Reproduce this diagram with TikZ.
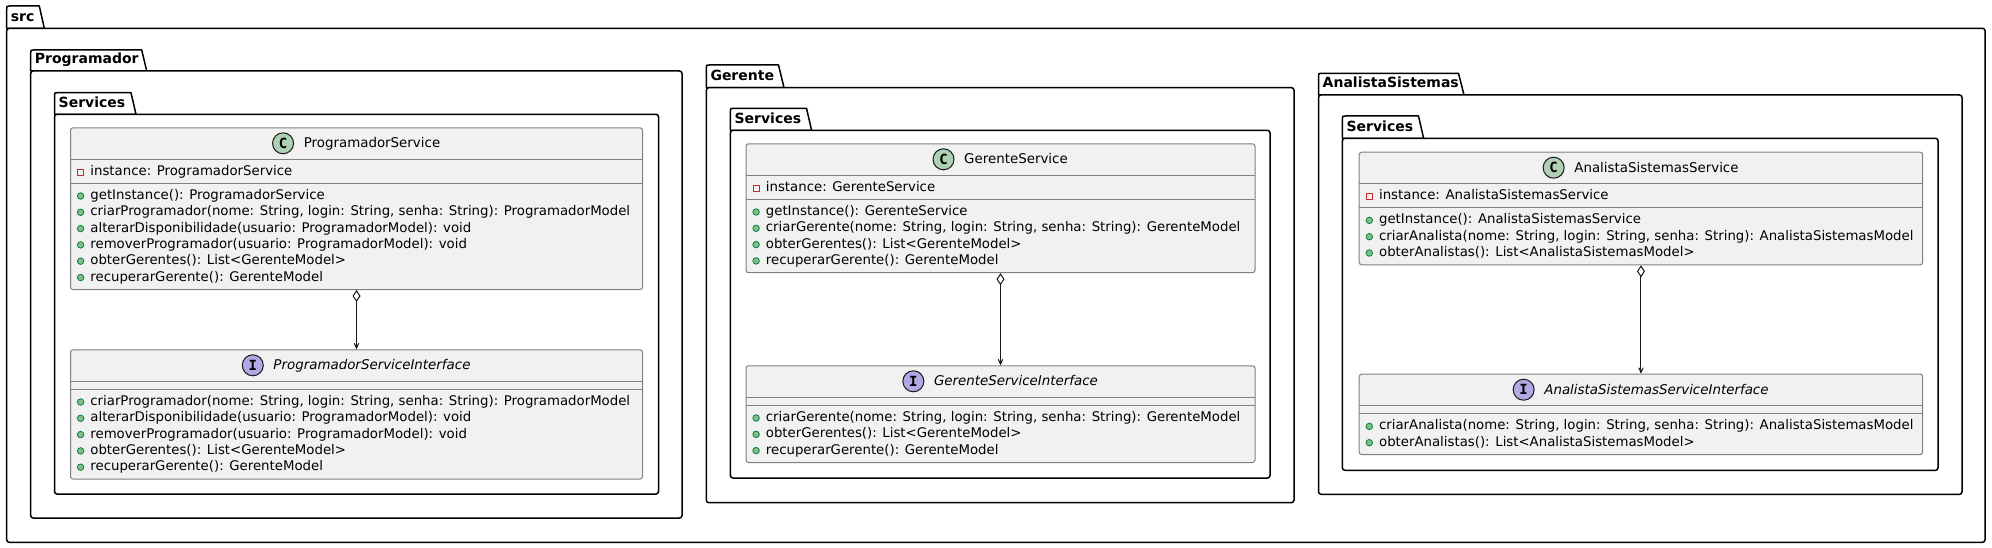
\documentclass[tikz,border=0pt]{standalone}
\usepackage{fontspec}
\setmainfont{DejaVu Sans}
\newfontfamily\spotfont{DejaVu Sans Mono}
\usetikzlibrary{arrows.meta}
\definecolor{classbg}{HTML}{F1F1F1}
\definecolor{classline}{HTML}{181818}
\definecolor{spotC}{HTML}{ADD1B2}
\definecolor{spotI}{HTML}{B4A7E5}
\definecolor{privred}{HTML}{C82930}
\definecolor{pubfill}{HTML}{84BE84}
\definecolor{publine}{HTML}{038048}
\tikzset{
  pkgline/.style={draw=black, line width=1.5pt, fill=white, line join=round},
  pkglabel/.style={anchor=base west, inner sep=0pt, font=\bfseries\fontsize{14}{16}\selectfont},
  classbox/.style={anchor=north west, draw=black!50, line width=1pt, fill=classbg, rounded corners=2.5pt, inner sep=0pt},
  sepline/.style={draw=black!50, line width=1pt},
  cname/.style={anchor=center, inner sep=0pt, text height=11pt, text depth=2pt, font=\fontsize{13.4}{16}\selectfont},
  iname/.style={cname, font=\itshape\fontsize{13.4}{16}\selectfont},
  member/.style={anchor=west, inner sep=0pt, text height=11pt, text depth=2pt, font=\fontsize{13.3}{16}\selectfont},
  spotc/.style={circle, draw=classline, line width=1pt, fill=spotC, minimum size=21pt, inner sep=0pt, font=\spotfont\bfseries\fontsize{14}{14}\selectfont},
  spoti/.style={spotc, fill=spotI},
  privicon/.style={rectangle, draw=privred, line width=0.9pt, minimum size=6pt, inner sep=0pt},
  pubicon/.style={circle, draw=publine, fill=pubfill, line width=0.8pt, minimum size=6.5pt, inner sep=0pt},
  aggr/.style={draw=classline, line width=1pt, arrows={Diamond[fill=white,length=12pt,width=8pt]-Stealth[length=11pt,width=10pt,inset=8pt]}}
}
% package: #1 name, #2 label, #3 left, #4 tab top, #5 body top, #6 tab right top, #7 tab right bottom, #8 right, #9 bottom
\newcommand\pkgdraw[9]{%
  \draw[pkgline] (#3,#5) -- (#3,#4+3) .. controls (#3,#4) .. (#3+3,#4) -- (#6,#4) -- (#7,#5) -- cycle;
  \draw[pkgline, rounded corners=2.5pt] (#3,#5) rectangle (#8,#9);
  \node[pkglabel] (#1) at (#3+4,#5-7) {#2};}
% class: #1 name, #2 left, #3 top, #4 width, #5 height, #6 spot style, #7 letter, #8 name style, #9 title
\newcommand\umlclass[9]{%
  \node[classbox, minimum width=#4pt, minimum height=#5pt] (#1) at (#2,#3) {};
  \node[#8] (#1n) at (#2+#4/2+16,#3+16) {#9};
  \node[#6] (#1s) at ([xshift=-20.5pt]#1n.west) {#7};}
% member: #1 name, #2 class left, #3 centre y, #4 icon style, #5 text
\newcommand\mline[5]{%
  \node[#4] (#1i) at (#2+10.6,#3+1) {};
  \node[member] (#1) at (#2+20.2,#3) {#5};}
\newcommand\sepat[3]{\draw[sepline] (#1,#3) -- ++(#2,0);}
\begin{document}
\begin{tikzpicture}[x=1pt,y=-1pt]
\useasboundingbox (0,0) rectangle (1992,548);
% packages
\pkgdraw{src}{src}{6.7}{6}{28.3}{39.3}{44.3}{1985}{542.3}
\pkgdraw{progpkg}{Programador}{30.7}{50}{71}{141.7}{146.7}{682}{518}
\pkgdraw{progsrv}{Services}{54.5}{92.7}{114.3}{131}{136}{658.5}{494}
\pkgdraw{gerpkg}{Gerente}{706.3}{65}{87.7}{778.5}{784}{1294}{502.7}
\pkgdraw{gersrv}{Services}{730.4}{108.3}{130.3}{806.5}{811.6}{1270}{478}
\pkgdraw{anapkg}{AnalistaSistemas}{1318.5}{73.3}{95}{1458.5}{1464}{1962}{494.3}
\pkgdraw{anasrv}{Services}{1342.4}{116}{138.3}{1418.5}{1423.6}{1938}{470.3}
% ProgramadorService
\umlclass{ps}{70}{127.3}{572}{161.7}{spotc}{C}{cname}{ProgramadorService}
\sepat{70}{572}{159.3}\sepat{70}{572}{183.3}
\mline{psa1}{70}{171}{privicon}{instance: ProgramadorService}
\mline{psm1}{70}{195}{pubicon}{getInstance(): ProgramadorService}
\mline{psm2}{70}{211.3}{pubicon}{criarProgramador(nome: String, login: String, senha: String): ProgramadorModel}
\mline{psm3}{70}{227.6}{pubicon}{alterarDisponibilidade(usuario: ProgramadorModel): void}
\mline{psm4}{70}{243.9}{pubicon}{removerProgramador(usuario: ProgramadorModel): void}
\mline{psm5}{70}{260.2}{pubicon}{obterGerentes(): List<GerenteModel>}
\mline{psm6}{70}{276.5}{pubicon}{recuperarGerente(): GerenteModel}
% ProgramadorServiceInterface
\umlclass{psi}{70}{349.3}{572}{129.2}{spoti}{I}{iname}{ProgramadorServiceInterface}
\sepat{70}{572}{381.3}\sepat{70}{572}{389.3}
\mline{psim1}{70}{401}{pubicon}{criarProgramador(nome: String, login: String, senha: String): ProgramadorModel}
\mline{psim2}{70}{417.3}{pubicon}{alterarDisponibilidade(usuario: ProgramadorModel): void}
\mline{psim3}{70}{433.6}{pubicon}{removerProgramador(usuario: ProgramadorModel): void}
\mline{psim4}{70}{449.9}{pubicon}{obterGerentes(): List<GerenteModel>}
\mline{psim5}{70}{466.2}{pubicon}{recuperarGerente(): GerenteModel}
% GerenteService
\umlclass{gs}{745.5}{143.3}{509}{128.9}{spotc}{C}{cname}{GerenteService}
\sepat{745.5}{509}{175.3}\sepat{745.5}{509}{199.3}
\mline{gsa1}{745.5}{187}{privicon}{instance: GerenteService}
\mline{gsm1}{745.5}{211}{pubicon}{getInstance(): GerenteService}
\mline{gsm2}{745.5}{227.3}{pubicon}{criarGerente(nome: String, login: String, senha: String): GerenteModel}
\mline{gsm3}{745.5}{243.6}{pubicon}{obterGerentes(): List<GerenteModel>}
\mline{gsm4}{745.5}{259.9}{pubicon}{recuperarGerente(): GerenteModel}
% GerenteServiceInterface
\umlclass{gsi}{745.5}{365.3}{509}{96.7}{spoti}{I}{iname}{GerenteServiceInterface}
\sepat{745.5}{509}{397.3}\sepat{745.5}{509}{405.3}
\mline{gsim1}{745.5}{417}{pubicon}{criarGerente(nome: String, login: String, senha: String): GerenteModel}
\mline{gsim2}{745.5}{433.3}{pubicon}{obterGerentes(): List<GerenteModel>}
\mline{gsim3}{745.5}{449.6}{pubicon}{recuperarGerente(): GerenteModel}
% AnalistaSistemasService
\umlclass{as}{1358.7}{151.7}{563.5}{112.6}{spotc}{C}{cname}{AnalistaSistemasService}
\sepat{1358.7}{563.5}{183.7}\sepat{1358.7}{563.5}{207.7}
\mline{asa1}{1358.7}{195.4}{privicon}{instance: AnalistaSistemasService}
\mline{asm1}{1358.7}{219.4}{pubicon}{getInstance(): AnalistaSistemasService}
\mline{asm2}{1358.7}{235.7}{pubicon}{criarAnalista(nome: String, login: String, senha: String): AnalistaSistemasModel}
\mline{asm3}{1358.7}{252}{pubicon}{obterAnalistas(): List<AnalistaSistemasModel>}
% AnalistaSistemasServiceInterface
\umlclass{asi}{1358.7}{373.7}{563.5}{80.3}{spoti}{I}{iname}{AnalistaSistemasServiceInterface}
\sepat{1358.7}{563.5}{405.7}\sepat{1358.7}{563.5}{413.7}
\mline{asim1}{1358.7}{425.4}{pubicon}{criarAnalista(nome: String, login: String, senha: String): AnalistaSistemasModel}
\mline{asim2}{1358.7}{441.7}{pubicon}{obterAnalistas(): List<AnalistaSistemasModel>}
% connectors
\draw[aggr] (ps.south) -- (psi.north);
\draw[aggr] (gs.south) -- (gsi.north);
\draw[aggr] (as.south) -- (asi.north);
\end{tikzpicture}
\end{document}
